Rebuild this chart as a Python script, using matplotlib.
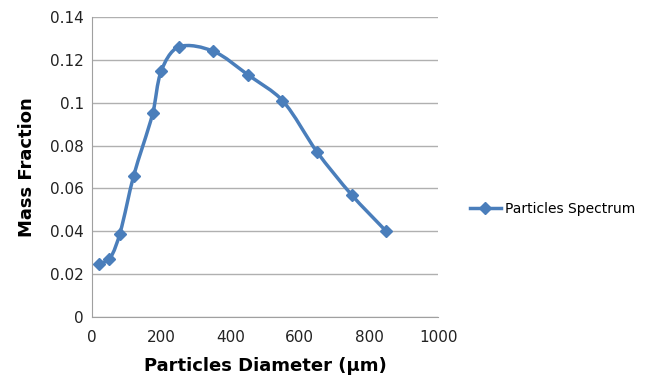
import numpy as np
import matplotlib.pyplot as plt
from matplotlib.path import Path
from matplotlib.patches import PathPatch
from matplotlib.lines import Line2D

# Particle size distribution
diameter = [20, 50, 80, 120, 175, 200, 250, 350, 450, 550, 650, 750, 850]
mass_fraction = [0.025, 0.027, 0.039, 0.066, 0.095, 0.115, 0.126, 0.124,
                 0.113, 0.101, 0.077, 0.057, 0.040]

color = '#4a7ebb'

fig = plt.figure(figsize=(6.68, 3.84), dpi=100)
ax = fig.add_axes([0.138, 0.174, 0.518, 0.782])


def smooth_path(xs, ys, k=0.3):
    # smoothed line: cubic Bezier, unit tangent from neighbours,
    # handle length proportional to each segment's own length
    sx, sy = 1000 / 346.0, 0.14 / 300.0  # data units per pixel
    P = np.column_stack([np.asarray(xs, float) / sx, np.asarray(ys, float) / sy])
    n = len(P)
    tang = []
    for i in range(n):
        d = P[min(i + 1, n - 1)] - P[max(i - 1, 0)]
        tang.append(d / np.hypot(*d))
    verts = [tuple(P[0])]
    codes = [Path.MOVETO]
    for i in range(n - 1):
        L = np.hypot(*(P[i + 1] - P[i]))
        verts += [tuple(P[i] + tang[i] * L * k), tuple(P[i + 1] - tang[i + 1] * L * k),
                  tuple(P[i + 1])]
        codes += [Path.CURVE4] * 3
    verts = [(vx * sx, vy * sy) for vx, vy in verts]
    return Path(verts, codes)


ax.add_patch(PathPatch(smooth_path(diameter, mass_fraction), fill=False,
                       edgecolor=color, lw=2.5, zorder=3))
ax.plot(diameter, mass_fraction, ls='none', marker='D', ms=6.5, color=color, zorder=4)

ax.set_xlim(0, 1000)
ax.set_ylim(0, 0.14)
ax.set_xticks(range(0, 1001, 200))
ax.set_yticks(np.arange(0, 0.141, 0.02))
ax.set_yticklabels(['0', '0.02', '0.04', '0.06', '0.08', '0.1', '0.12', '0.14'])
ax.tick_params(labelsize=11, length=0, pad=6, colors='#222222')
ax.tick_params(axis='x', pad=9)

ax.grid(axis='y', color='#b0b0b0', lw=1)
ax.set_axisbelow(True)
for side in ['top', 'right']:
    ax.spines[side].set_visible(False)
for side in ['left', 'bottom']:
    ax.spines[side].set_color('#a0a0a0')

ax.set_xlabel('Particles Diameter (μm)', fontsize=13, fontweight='bold', labelpad=9)
ax.set_ylabel('Mass Fraction', fontsize=13, fontweight='bold', labelpad=10)

handle = Line2D([], [], color=color, lw=2.5, marker='D', ms=6.5)
fig.legend([handle], ['Particles Spectrum'], loc='center left',
           bbox_to_anchor=(0.685, 0.455), frameon=False, fontsize=10,
           handlelength=2.2, handletextpad=0.3)

fig.savefig('out.png', dpi=100)
